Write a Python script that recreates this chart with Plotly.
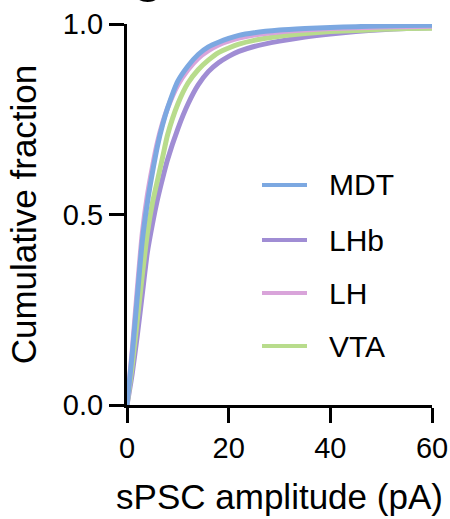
import plotly.graph_objects as go

# sPSC amplitude grid (pA) and cumulative fractions per input region
amplitude = [0, 1, 2, 3, 4, 5, 6, 7, 8, 10, 12, 14, 16, 18, 20, 22, 25, 30, 35, 40, 45, 50, 55, 60]

mdt = [0, 0.13, 0.28, 0.43, 0.53, 0.61, 0.68, 0.735, 0.78, 0.85, 0.89, 0.92, 0.94, 0.952,
       0.962, 0.97, 0.977, 0.984, 0.988, 0.991, 0.993, 0.995, 0.996, 0.997]
lhb = [0, 0.08, 0.18, 0.29, 0.40, 0.475, 0.54, 0.595, 0.645, 0.725, 0.79, 0.84, 0.875, 0.898,
       0.915, 0.928, 0.941, 0.955, 0.966, 0.974, 0.98, 0.985, 0.988, 0.99]
lh = [0, 0.14, 0.30, 0.45, 0.55, 0.625, 0.69, 0.74, 0.78, 0.84, 0.88, 0.91, 0.93, 0.945,
      0.955, 0.963, 0.971, 0.979, 0.984, 0.988, 0.99, 0.992, 0.993, 0.994]
vta = [0, 0.10, 0.22, 0.34, 0.45, 0.53, 0.59, 0.65, 0.71, 0.79, 0.845, 0.88, 0.905, 0.925,
       0.937, 0.947, 0.957, 0.968, 0.975, 0.98, 0.983, 0.986, 0.988, 0.989]

names = ["MDT", "LHb", "LH", "VTA"]
series = {"MDT": mdt, "LHb": lhb, "LH": lh, "VTA": vta}
colors = {"MDT": "#7ca8e1", "LHb": "#a08dd4", "LH": "#d9a4da", "VTA": "#b8dc8c"}
draw_order = ["LHb", "VTA", "LH", "MDT"]

x_ticks = [0, 20, 40, 60]
y_ticks = [0.0, 0.5, 1.0]

FONT = "Arial, Liberation Sans, Helvetica, sans-serif"
W, H = 450, 519
L, R, T, B = 127, 18, 24, 114
PW, PH = W - L - R, H - T - B


def paper_x(px):
    return (px - L) / PW


def paper_y(py):
    return (H - B - py) / PH


fig = go.Figure()
for name in draw_order:
    fig.add_trace(go.Scatter(
        x=amplitude, y=series[name], mode="lines", name=name,
        line=dict(color=colors[name], width=5, shape="spline", smoothing=0.6),
        showlegend=False, hoverinfo="skip",
    ))

# hand-placed legend: short coloured bar + label per region
legend_rows = [185, 240, 293, 346]
for name, row in zip(names, legend_rows):
    fig.add_shape(type="line", xref="paper", yref="paper",
                  x0=paper_x(262), x1=paper_x(307), y0=paper_y(row), y1=paper_y(row),
                  line=dict(color=colors[name], width=4))
    fig.add_annotation(xref="paper", yref="paper", x=paper_x(327), y=paper_y(row),
                       text=name, showarrow=False, xanchor="left", yanchor="middle",
                       font=dict(family=FONT, size=30, color="black"))

# panel letter, mostly above the page edge
fig.add_annotation(xref="paper", yref="paper", x=paper_x(148), y=paper_y(5),
                   text="<b>g</b>", showarrow=False, xanchor="center", yanchor="bottom",
                   font=dict(family=FONT, size=50, color="black"))

axis_common = dict(
    showline=True, linecolor="black", linewidth=3,
    ticks="outside", ticklen=15, tickwidth=3, tickcolor="black",
    showgrid=False, zeroline=False, automargin=False,
    tickfont=dict(family=FONT, size=29, color="black"),
)

fig.update_layout(
    width=W, height=H,
    margin=dict(l=L, r=R, t=T, b=B, pad=0),
    paper_bgcolor="white", plot_bgcolor="white",
    xaxis=dict(range=[0, 60], tickvals=x_ticks, **axis_common,
               title=dict(text="sPSC amplitude (pA)", standoff=22,
                          font=dict(family=FONT, size=35, color="black"))),
    yaxis=dict(range=[0, 1], tickvals=y_ticks, tickformat=".1f", **axis_common,
               title=dict(text="Cumulative fraction", standoff=16,
                          font=dict(family=FONT, size=35, color="black"))),
)

fig.write_html("out.html")
